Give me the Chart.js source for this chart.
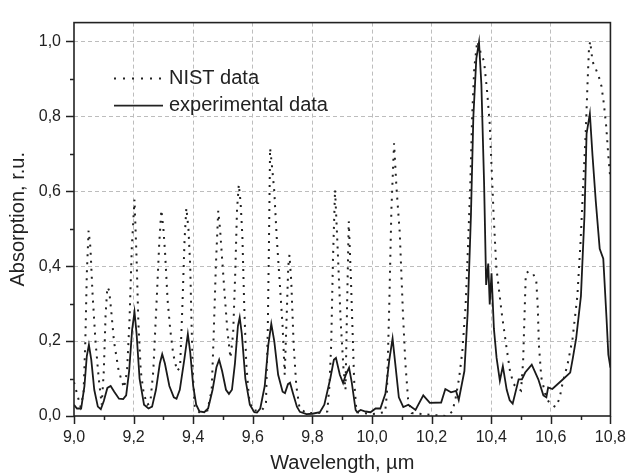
<!DOCTYPE html>
<html>
<head>
<meta charset="utf-8">
<script src="https://cdn.jsdelivr.net/npm/chart.js@4.4.0/dist/chart.umd.min.js"></script>
<style>
  html, body { margin: 0; padding: 0; background: #fff; }
  #wrap { width: 638px; height: 475px; }
</style>
</head>
<body>
<div id="wrap"><canvas id="grafico" width="638" height="475"></canvas></div>
<script>
// NIST reference spectrum (dotted)
const nistWl = [9.000, 9.010, 9.022, 9.032, 9.038, 9.043, 9.049, 9.055, 9.062, 9.072, 9.083, 9.093,
  9.100, 9.106, 9.112, 9.118, 9.125, 9.134, 9.150, 9.168, 9.178, 9.186, 9.194, 9.203, 9.210, 9.216,
  9.224, 9.234, 9.246, 9.256, 9.266, 9.278, 9.286, 9.293, 9.300, 9.306, 9.314, 9.323, 9.333, 9.346,
  9.356, 9.364, 9.371, 9.377, 9.384, 9.390, 9.394, 9.399, 9.405, 9.420, 9.448, 9.462, 9.468, 9.476,
  9.484, 9.490, 9.497, 9.505, 9.515, 9.525, 9.534, 9.541, 9.547, 9.553, 9.559, 9.565, 9.571, 9.578,
  9.587, 9.600, 9.630, 9.644, 9.650, 9.654, 9.658, 9.664, 9.672, 9.680, 9.690, 9.700, 9.707, 9.713,
  9.719, 9.723, 9.729, 9.737, 9.746, 9.757, 9.780, 9.820, 9.850, 9.857, 9.863, 9.869, 9.876, 9.884,
  9.895, 9.904, 9.911, 9.916, 9.922, 9.929, 9.935, 9.940, 9.948, 10.000, 10.044, 10.050, 10.058,
  10.065, 10.074, 10.082, 10.093, 10.104, 10.112, 10.121, 10.133, 10.200, 10.250, 10.270, 10.281,
  10.292, 10.303, 10.314, 10.322, 10.330, 10.336, 10.343, 10.353, 10.364, 10.376, 10.386, 10.395,
  10.401, 10.408, 10.417, 10.435, 10.450, 10.463, 10.475, 10.488, 10.500, 10.507, 10.512, 10.516,
  10.525, 10.540, 10.551, 10.556, 10.560, 10.568, 10.584, 10.597, 10.616, 10.629, 10.640, 10.656,
  10.673, 10.689, 10.700, 10.708, 10.717, 10.723, 10.728, 10.732, 10.740, 10.750, 10.761, 10.770,
  10.778, 10.786, 10.793, 10.800];
const nistAbs = [0.09, 0.06, 0.025, 0.06, 0.2, 0.38, 0.495, 0.45, 0.33, 0.2, 0.1, 0.03,
  0.12, 0.27, 0.344, 0.335, 0.28, 0.2, 0.12, 0.075, 0.12, 0.25, 0.45, 0.578, 0.42, 0.25,
  0.12, 0.06, 0.03, 0.035, 0.12, 0.32, 0.46, 0.55, 0.5, 0.43, 0.31, 0.23, 0.165, 0.12,
  0.13, 0.3, 0.47, 0.555, 0.5, 0.4, 0.26, 0.11, 0.025, 0.01, 0.015, 0.07, 0.2, 0.4,
  0.548, 0.5, 0.42, 0.33, 0.225, 0.155, 0.22, 0.38, 0.55, 0.618, 0.57, 0.48, 0.3, 0.14,
  0.05, 0.015, 0.015, 0.03, 0.22, 0.45, 0.715, 0.67, 0.6, 0.48, 0.36, 0.24, 0.11, 0.25,
  0.4, 0.43, 0.36, 0.19, 0.08, 0.02, 0.008, 0.008, 0.012, 0.08, 0.19, 0.42, 0.604, 0.46,
  0.25, 0.13, 0.07, 0.28, 0.52, 0.37, 0.22, 0.095, 0.01, 0.005, 0.01, 0.06, 0.3,
  0.55, 0.728, 0.61, 0.49, 0.27, 0.14, 0.045, 0.008, 0.003, 0.0, 0.012, 0.05,
  0.1, 0.172, 0.294, 0.45, 0.624, 0.8, 0.928, 1.0, 0.972, 0.946, 0.868, 0.78,
  0.668, 0.537, 0.398, 0.276, 0.19, 0.12, 0.085, 0.075, 0.068, 0.146, 0.276, 0.38,
  0.386, 0.38, 0.363, 0.294, 0.19, 0.103, 0.05, 0.033, 0.024, 0.046, 0.09, 0.137,
  0.207, 0.32, 0.468, 0.607, 0.754, 0.885, 0.98, 1.0, 0.946, 0.928, 0.906, 0.88,
  0.833, 0.772, 0.694, 0.63];

// measured spectrum (solid)
const expWl = [9.000, 9.010, 9.024, 9.035, 9.043, 9.050, 9.058, 9.068, 9.080, 9.090, 9.100, 9.112,
  9.123, 9.135, 9.151, 9.165, 9.175, 9.185, 9.195, 9.203, 9.210, 9.220, 9.235, 9.250, 9.262, 9.275,
  9.288, 9.296, 9.305, 9.320, 9.335, 9.344, 9.355, 9.370, 9.382, 9.390, 9.400, 9.410, 9.421, 9.437,
  9.450, 9.465, 9.478, 9.487, 9.497, 9.510, 9.520, 9.530, 9.540, 9.550, 9.556, 9.563, 9.575, 9.590,
  9.605, 9.614, 9.625, 9.640, 9.652, 9.662, 9.672, 9.685, 9.700, 9.708, 9.718, 9.725, 9.735, 9.748,
  9.758, 9.780, 9.800, 9.825, 9.840, 9.860, 9.872, 9.879, 9.892, 9.903, 9.912, 9.923, 9.932, 9.945,
  9.950, 9.962, 9.978, 9.995, 10.012, 10.028, 10.045, 10.058, 10.069, 10.078, 10.090, 10.105, 10.122,
  10.146, 10.172, 10.194, 10.232, 10.246, 10.265, 10.282, 10.291, 10.310, 10.321, 10.332, 10.340,
  10.350, 10.359, 10.367, 10.376, 10.383, 10.390, 10.395, 10.401, 10.409, 10.418, 10.429, 10.439,
  10.452, 10.462, 10.472, 10.492, 10.503, 10.514, 10.536, 10.558, 10.575, 10.585, 10.591, 10.605,
  10.641, 10.665, 10.674, 10.685, 10.701, 10.713, 10.720, 10.731, 10.740, 10.751, 10.764, 10.776,
  10.787, 10.793, 10.800];
const expAbs = [0.03, 0.02, 0.02, 0.08, 0.16, 0.19, 0.15, 0.07, 0.025, 0.018, 0.04, 0.075,
  0.08, 0.065, 0.046, 0.045, 0.055, 0.12, 0.23, 0.278, 0.22, 0.1, 0.03, 0.02, 0.025, 0.07,
  0.14, 0.165, 0.14, 0.08, 0.05, 0.046, 0.07, 0.15, 0.219, 0.17, 0.08, 0.03, 0.012, 0.01,
  0.02, 0.07, 0.13, 0.15, 0.12, 0.07, 0.059, 0.07, 0.14, 0.24, 0.263, 0.22, 0.1, 0.03,
  0.01, 0.009, 0.02, 0.08, 0.19, 0.246, 0.2, 0.11, 0.065, 0.061, 0.085, 0.089, 0.06, 0.025,
  0.011, 0.005, 0.006, 0.01, 0.03, 0.1, 0.15, 0.155, 0.11, 0.088, 0.11, 0.129, 0.09, 0.016,
  0.01, 0.016, 0.012, 0.01, 0.02, 0.02, 0.06, 0.15, 0.207, 0.14, 0.05, 0.024, 0.03,
  0.016, 0.055, 0.035, 0.036, 0.072, 0.063, 0.067, 0.043, 0.12, 0.276, 0.537, 0.798,
  0.954, 0.998, 0.885, 0.624, 0.35, 0.407, 0.298, 0.381, 0.233, 0.155, 0.094, 0.133,
  0.07, 0.042, 0.033, 0.098, 0.098, 0.116, 0.137, 0.098, 0.055, 0.05, 0.076, 0.072,
  0.098, 0.116, 0.155, 0.207, 0.32, 0.537, 0.754, 0.807, 0.694, 0.572, 0.446, 0.42,
  0.259, 0.164, 0.129];

const legendLabels = ['NIST data', 'experimental data'];
const xTitle = 'Wavelength, \u00b5m';
const yTitle = 'Absorption, r.u.';

const toPoints = (xs, ys) => xs.map((x, i) => ({ x, y: ys[i] }));
const isMajor = v => Math.round(v * 10) % 2 === 0;
const fmt = v => v.toFixed(1).replace('.', ',');
const FONT = '"Liberation Sans", Arial, sans-serif';
const INK = '#222';
const GRID = '#bdbdbd';

// frame, tick marks and the inset legend
const marco = {
  id: 'marco',
  afterDraw(chart) {
    const { ctx, chartArea: a, scales: { x, y } } = chart;
    ctx.save();
    ctx.strokeStyle = INK;
    ctx.lineWidth = 1.6;
    ctx.strokeRect(a.left, a.top, a.right - a.left, a.bottom - a.top);
    ctx.lineWidth = 1.5;
    ctx.beginPath();
    x.ticks.forEach(t => {
      const px = Math.round(x.getPixelForValue(t.value)) + 0.5;
      ctx.moveTo(px, a.bottom);
      ctx.lineTo(px, a.bottom + (isMajor(t.value) ? 8 : 4));
    });
    y.ticks.forEach(t => {
      const py = Math.round(y.getPixelForValue(t.value)) + 0.5;
      ctx.moveTo(a.left, py);
      ctx.lineTo(a.left - (isMajor(t.value) ? 8 : 4), py);
    });
    ctx.stroke();

    const x0 = a.left + 40, x1 = a.left + 89, tx = a.left + 95;
    const rows = [a.top + 56, a.top + 83];
    ctx.lineWidth = 2;
    ctx.setLineDash([2, 7]);
    ctx.beginPath(); ctx.moveTo(x0, rows[0]); ctx.lineTo(x1, rows[0]); ctx.stroke();
    ctx.setLineDash([]);
    ctx.lineWidth = 1.8;
    ctx.beginPath(); ctx.moveTo(x0, rows[1]); ctx.lineTo(x1, rows[1]); ctx.stroke();
    ctx.fillStyle = INK;
    ctx.font = '20px ' + FONT;
    ctx.textBaseline = 'middle';
    legendLabels.forEach((txt, i) => ctx.fillText(txt, tx, rows[i]));
    ctx.restore();
  }
};

new Chart(document.getElementById('grafico').getContext('2d'), {
  type: 'scatter',
  data: {
    datasets: [
      {
        label: legendLabels[0],
        data: toPoints(nistWl, nistAbs),
        showLine: true,
        borderColor: INK,
        borderWidth: 2,
        borderDash: [2, 6],
        pointRadius: 0,
        tension: 0
      },
      {
        label: legendLabels[1],
        data: toPoints(expWl, expAbs),
        showLine: true,
        borderColor: '#1a1a1a',
        borderWidth: 1.8,
        pointRadius: 0,
        tension: 0
      }
    ]
  },
  options: {
    responsive: false,
    animation: false,
    layout: { padding: { top: 14, right: 20, left: 0, bottom: 0 } },
    plugins: { legend: { display: false }, tooltip: { enabled: false } },
    scales: {
      x: {
        type: 'linear',
        min: 9.0,
        max: 10.8,
        afterFit: s => { s.height = 59; },
        ticks: {
          stepSize: 0.1,
          autoSkip: false,
          maxRotation: 0,
          padding: 12,
          color: INK,
          font: { size: 16, family: FONT },
          callback: v => isMajor(v) ? fmt(v) : ''
        },
        grid: {
          drawTicks: false,
          color: c => (c.tick && isMajor(c.tick.value) && c.tick.value > 9.01 && c.tick.value < 10.79) ? GRID : 'rgba(0,0,0,0)',
          lineWidth: 1
        },
        border: { display: false, dash: [4, 3] },
        title: { display: true, text: xTitle, color: INK, font: { size: 20, family: FONT }, padding: { top: 0, bottom: 0 } }
      },
      y: {
        type: 'linear',
        min: 0,
        max: 1.05,
        afterFit: s => { s.width = 74; },
        ticks: {
          stepSize: 0.1,
          includeBounds: false,
          autoSkip: false,
          padding: 13,
          color: INK,
          font: { size: 16, family: FONT },
          callback: v => isMajor(v) ? fmt(v) : ''
        },
        grid: {
          drawTicks: false,
          color: c => (c.tick && isMajor(c.tick.value) && c.tick.value > 0.01) ? GRID : 'rgba(0,0,0,0)',
          lineWidth: 1
        },
        border: { display: false, dash: [4, 3] },
        title: { display: true, text: yTitle, color: INK, font: { size: 20, family: FONT }, padding: { top: 6, bottom: 0 } }
      }
    }
  },
  plugins: [marco]
});
</script>
</body>
</html>
